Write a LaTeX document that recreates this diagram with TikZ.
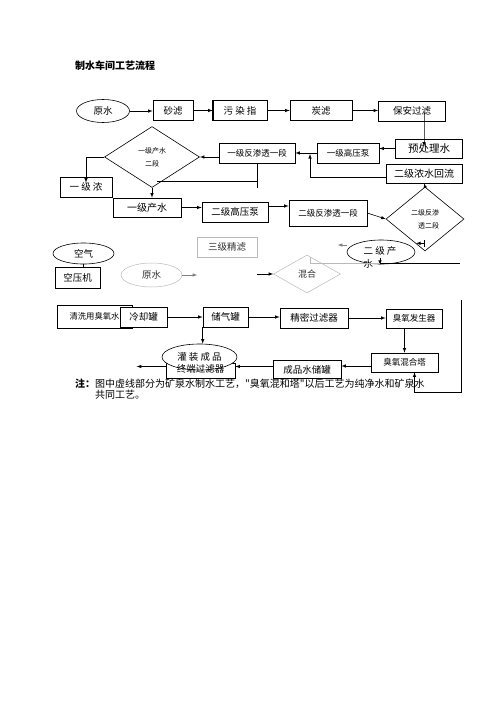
\documentclass[tikz,border=0pt]{standalone}
\usepackage{fontspec}
\newfontfamily\cjk{Noto Sans CJK SC}
\usetikzlibrary{shapes.geometric}

\begin{document}
\begin{tikzpicture}[x=1pt,y=-1pt,
                    process/.style={draw,line width=0.6pt,inner sep=0pt,font=\cjk\fontsize{9.5}{11}\selectfont},
                    small process/.style={process,font=\cjk\fontsize{8.5}{10}\selectfont},
                    source/.style={draw,ellipse,line width=0.6pt,inner sep=0pt,font=\cjk\fontsize{9.5}{11}\selectfont},
                    decision/.style={draw,diamond,line width=0.6pt,inner sep=0pt,font=\cjk\fontsize{7}{13}\selectfont},
                    pale/.style={gray!55,line width=0.5pt,text=black!80},
                    flow/.style={-latex,line width=0.6pt},
                    note/.style={inner sep=0pt,anchor=west,font=\cjk\fontsize{10}{12}\selectfont}]
    \path[use as bounding box] (0,0) rectangle (500,707);

    \node[note,font=\cjk\bfseries\fontsize{10}{12}\selectfont] (title) at (75,66) {制水车间工艺流程};

    \node[source,minimum width=53pt,minimum height=23pt] (raw water) at (103,111) {原水};
    \node[process,minimum width=40pt,minimum height=20pt] (sand) at (173,110.5) {砂滤};
    \node[process,minimum width=54pt,minimum height=20pt] (sdi) at (240,110.5) {污\ 染\ 指};
    \draw[line width=1.3pt] (sdi.north west) -- (sdi.south west);
    \node[process,minimum width=62pt,minimum height=20pt] (carbon) at (321,110.5) {炭滤};
    \node[process,minimum width=67pt,minimum height=20pt] (guard) at (412,111) {保安过滤};
    \node[process,minimum width=67pt,minimum height=19pt,font=\cjk\fontsize{10.5}{12}\selectfont] (pretreat) at (429,148.5) {预处理水};
    \node[small process,minimum width=62pt,minimum height=20pt] (hp1) at (348,153) {一级高压泵};
    \node[small process,minimum width=76pt,minimum height=20pt] (ro1) at (257,153) {一级反渗透一段};
    \node[process,minimum width=76pt,minimum height=19pt,font=\cjk\fontsize{10}{12}\selectfont] (backflow) at (424,173.5) {二级浓水回流};
    \node[decision,minimum width=95pt,minimum height=61pt,align=center] (dia1) at (152,157) {一级产水\\二段};
    \node[process,minimum width=52pt,minimum height=20pt] (conc1) at (86,187) {一\ 级\ 浓};
    \node[process,minimum width=68pt,minimum height=19pt,font=\cjk\fontsize{10}{12}\selectfont] (prod1) at (147,207.5) {一级产水};
    \node[process,minimum width=66pt,minimum height=20pt] (hp2) at (235,212) {二级高压泵};
    \node[small process,minimum width=78pt,minimum height=26pt] (ro2) at (328,213) {二级反渗透一段};
    \node[decision,minimum width=78pt,minimum height=64pt,align=right] (dia2) at (425,219) {二级反渗\\透二段};
    \node[source,minimum width=68pt,minimum height=24pt] (prod2) at (381,252) {};
    \node[inner sep=0pt,align=left,font=\cjk\fontsize{9.5}{13}\selectfont] (prod2 label) at (380,257) {二\ 级\ 产\\水};

    \node[process,pale,minimum width=60pt,minimum height=20pt] (fine filter) at (227,247) {三级精滤};
    \node[source,minimum width=61pt,minimum height=21pt] (air) at (83.5,253.5) {空气};
    \node[process,minimum width=45pt,minimum height=21pt] (compressor) at (77.5,277.5) {空压机};
    \node[source,pale,minimum width=61pt,minimum height=24pt] (raw water 2) at (151.5,275) {原水};
    \node[decision,pale,minimum width=67pt,minimum height=38pt,font=\cjk\fontsize{9}{11}\selectfont] (blend) at (307,274) {混合};

    \node[process,minimum width=75pt,minimum height=23pt,font=\cjk\fontsize{8.3}{10}\selectfont] (wash) at (94.5,316.5) {清洗用臭氧水};
    \node[process,fill=white,minimum width=47pt,minimum height=20pt] (cooler) at (143.5,317) {冷却罐};
    \node[process,minimum width=45pt,minimum height=20pt] (gas) at (225.5,317) {储气罐};
    \node[process,minimum width=68pt,minimum height=20pt] (precision) at (314,318) {精密过滤器};
    \node[small process,minimum width=56pt,minimum height=19pt] (ozone gen) at (414,318.5) {臭氧发生器};
    \node[small process,minimum width=67pt,minimum height=19pt] (ozone mix) at (404.5,362.5) {臭氧混合塔};
    \node[process,minimum width=68pt,minimum height=18pt] (storage) at (307,369.5) {成品水储罐};
    \node[process,minimum width=69pt,minimum height=15pt] (terminal) at (200.5,370.5) {};
    \node[source,fill=white,minimum width=75pt,minimum height=26pt] (bottling) at (199.5,357) {灌\ 装\ 成\ 品};
    \node[inner sep=0pt,font=\cjk\fontsize{9.5}{11}\selectfont] (terminal label) at (200.5,369) {终端过滤器};

    \node[note] (note line 1) at (75,384) {{\bfseries 注：}图中虚线部分为矿泉水制水工艺，"臭氧混和塔"以后工艺为纯净水和矿泉水};
    \node[note] (note line 2) at (95,395) {共同工艺。};

    \coordinate (return tip) at (310,154);
    \coordinate (dia1 drain) at (157,181);
    \coordinate (prod2 drop) at (380,263);
    \coordinate (blend feed) at (257,274);
    \coordinate (loop top) at (461,300);
    \coordinate (loop bottom) at (461,392);

    \draw[flow] (raw water.east) -- (raw water.east -| sand.west);
    \draw[flow] (sand) -- (sdi);
    \draw[flow] (sdi) -- (carbon);
    \draw[flow] (carbon.east) -- (carbon.east -| guard.west);
    \draw[flow] ([xshift=12pt,yshift=-2pt]guard.center) -- ([xshift=12pt,yshift=-2pt]guard.center |- pretreat.north) -- ++(0,6);
    \draw[flow] (pretreat.west) -- (pretreat.west -| hp1.east);
    \draw[flow] (hp1) -- (ro1);
    \draw[flow] ([yshift=-4pt]backflow.west) -| (return tip);
    \draw[flow] (dia1.east -| ro1.west) -- (dia1.east);
    \draw (ro1.south) -- ++(0,25);
    \draw (dia1 drain) -- (dia1 drain -| ro1.south);
    \draw[flow] (dia1.west) -| ([yshift=-6pt]conc1.north);
    \draw[flow] (dia1.south) -- (dia1.south |- prod1.north);
    \draw[flow] (prod1.east) -- (prod1.east -| hp2.west);
    \draw[flow] ([yshift=6pt]hp2.east) -- ([yshift=6pt]hp2.east -| ro2.west);
    \draw[flow] (ro2.east) -- (dia2.west);
    \draw[flow] (dia2.north) -- (backflow.south);
    \draw[flow,|-latex] ([yshift=8pt]dia2.south) -- ++(-9,0);
    \draw[flow,gray] ([yshift=7pt]prod2.west) -- ++(-9,0);
    \draw[line width=0.6pt] (prod2 drop) -- ++(80,0);
    \draw[flow] ([yshift=5pt]prod2 drop) -- ([yshift=-2pt]prod2 drop);
    \draw[pale] ([xshift=3pt,yshift=-2pt]blend.north) |- (prod2 drop);

    \draw[line width=0.6pt] (air.south) -- (air.south |- compressor.north);
    \draw[flow,gray] (raw water 2.east) -- ++(15,0);
    \draw[flow] (blend feed) -- (blend.west);

    \draw[flow] (cooler.east) -- (cooler.east -| gas.west);
    \draw[flow] (gas.east) -- (gas.east -| precision.west);
    \draw[flow] (precision.east) -- (precision.east -| ozone gen.west);
    \draw[flow] (ozone gen.south -| ozone mix.north) -- (ozone mix.north);
    \draw[flow] ([yshift=-3.5pt]ozone mix.west) -- ([yshift=-3.5pt]ozone mix.west -| storage.east);
    \draw[flow] ([yshift=3pt]storage.west) -- ([yshift=3pt]storage.west -| terminal.east);
    \draw[flow] ([yshift=4pt]terminal.west) -- ++(-29,0);
    \draw[flow] (gas.south west) -- (gas.south west |- bottling.north);
    \draw[flow] (loop top) -- (loop bottom) -| ([xshift=10pt]ozone mix.south);
\end{tikzpicture}
\end{document}
